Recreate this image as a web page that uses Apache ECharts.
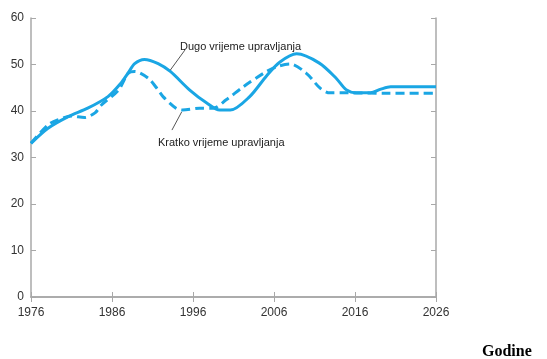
<!DOCTYPE html>
<html><head><meta charset="utf-8">
<script src="https://cdn.jsdelivr.net/npm/echarts@6/dist/echarts.min.js"></script>
<style>html,body{margin:0;padding:0;background:#fff}#c{width:547px;height:359px}</style>
</head><body><div id="c"></div>
<script>
const dugoYears  = [1976,1978.1,1980.6,1983,1985.5,1987.1,1988,1988.8,1990,1991.7,1993.2,1995.6,1997.7,1999.3,2000.6,2003,2005.1,2006.7,2008.8,2011.6,2013.7,2014.9,2016.2,2017.9,2019.2,2020.4,2023,2026];
const dugoValues = [33.05,36.3,38.8,40.6,43.1,  46,    48.2,50.2,  51.1,50.2,  48.5,  44.5,  41.7,  40.2,  40.2,  43.1,47.6,  50.5,  52.3,50.3,  47,    44.6,  43.9,  43.9,  44.7,  45.2,  45.2,45.2];
const kratkoYears  = [1976,1978.1,1979.3,1981,1982.6,1983.9,1984.7,1986.8,1988,1988.8,1990.5,1991.7,1992.3,1993.9,1994.7,1996.8,1998.5,2000.1,2002.2,2004.7,2006.3,2008,2010,2011.7,2012.9,2015,2020,2026];
const kratkoValues = [33.05,37,  38.1,  38.9,38.6,  39.6,  41.3,  44.5,  48.1,48.5,  47,    44.5,  43.1,  40.6,  40.2,  40.6,  40.6,  42.4,  45.2,  48.1,  49.5,  50.1,48.1,44.9,  43.9,  43.9,43.8,43.8];
const xTicks = [1976,1986,1996,2006,2016,2026];
const dugoLabel = 'Dugo vrijeme upravljanja';
const kratkoLabel = 'Kratko vrijeme upravljanja';
const axisLabelTitle = 'Godine';

const blue = '#1aa6e4';
const grey = '#a8a8a8';
const pair = (xs, ys) => xs.map((x, i) => [x, ys[i]]);
const chart = echarts.init(document.getElementById('c'), null, {renderer: 'canvas'});
const tickStyle = {show: true, inside: true, length: 5, lineStyle: {color: grey, width: 1}};
const lbl = {color: '#333', fontFamily: 'Liberation Sans, Arial, sans-serif', fontSize: 12};
chart.setOption({
  animation: false,
  grid: {left: 31, right: 111, top: 18, bottom: 62},
  xAxis: [
    {type: 'value', min: 1976, max: 2026, interval: 10, position: 'bottom',
     axisLine: {lineStyle: {color: grey, width: 1.5}}, axisTick: tickStyle,
     axisLabel: Object.assign({margin: 10, formatter: v => String(v)}, lbl), splitLine: {show: false}},
    {type: 'value', min: 1976, max: 2026, interval: 10, position: 'top',
     axisLine: {lineStyle: {color: grey, width: 1.5}}, axisTick: tickStyle,
     axisLabel: {show: false}, splitLine: {show: false}}
  ],
  yAxis: [
    {type: 'value', min: 0, max: 60, interval: 10, position: 'left',
     axisLine: {show: true, lineStyle: {color: grey, width: 1.5}}, axisTick: tickStyle,
     axisLabel: Object.assign({margin: 7}, lbl), splitLine: {show: false}},
    {type: 'value', min: 0, max: 60, interval: 10, position: 'right',
     axisLine: {show: true, lineStyle: {color: grey, width: 1.5}}, axisTick: tickStyle,
     axisLabel: {show: false}, splitLine: {show: false}}
  ],
  series: [
    {type: 'line', name: dugoLabel, data: pair(dugoYears, dugoValues), smooth: 0.3, showSymbol: false,
     lineStyle: {color: blue, width: 3}, z: 3,
     markLine: {silent: true, symbol: 'none', label: {show: false},
       lineStyle: {color: '#555', width: 1, type: 'solid'},
       data: [[{coord: [1995.0, 53.1]}, {coord: [1993.2, 48.8]}],
              [{coord: [1994.6, 39.8]}, {coord: [1993.4, 35.9]}]]}},
    {type: 'line', name: kratkoLabel, data: pair(kratkoYears, kratkoValues), smooth: 0.3, showSymbol: false,
     lineStyle: {color: blue, width: 3, type: [9, 5]}, z: 2}
  ],
  graphic: [
    {type: 'text', left: 180, top: 41, style: {text: dugoLabel, fill: '#222', font: '11px Liberation Sans, Arial, sans-serif'}},
    {type: 'text', left: 158, top: 137, style: {text: kratkoLabel, fill: '#222', font: '11px Liberation Sans, Arial, sans-serif'}},
    {type: 'text', left: 482, top: 344, style: {text: axisLabelTitle, fill: '#000', font: 'bold 16px Liberation Serif, Times New Roman, serif'}}
  ]
});
</script></body></html>
